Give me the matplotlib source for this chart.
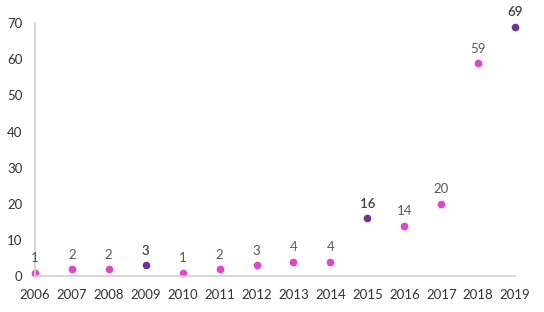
import matplotlib.pyplot as plt

years = [2006, 2007, 2008, 2009, 2010, 2011, 2012, 2013, 2014, 2015, 2016, 2017, 2018, 2019]
counts = [1, 2, 2, 3, 1, 2, 3, 4, 4, 16, 14, 20, 59, 69]
highlight = [2009, 2015, 2019]

pink = '#E840D0'
purple = '#7030A0'

plt.rcParams['font.family'] = ['Lato', 'DejaVu Sans']
fig = plt.figure(figsize=(5.44, 3.12), dpi=100)
ax = fig.add_axes([0.064, 0.115, 0.883, 0.811])

for y, c in zip(years, counts):
    hl = y in highlight
    ax.plot(y, c, 'o', color=purple if hl else pink, markersize=4.5, clip_on=False)
    ax.annotate(str(c), (y, c), xytext=(0, 6), textcoords='offset points',
                ha='center', va='bottom', fontsize=9.5,
                color='#404040' if hl else '#595959',
                fontweight='semibold' if hl else 'normal')

ax.set_xlim(2006, 2019)
ax.set_ylim(0, 70)
ax.set_xticks(years)
ax.set_yticks(range(0, 71, 10))
ax.tick_params(axis='x', length=0, labelsize=9.5, labelcolor='#333333', pad=9)
ax.tick_params(axis='y', length=0, labelsize=9.5, labelcolor='#333333', pad=9)
for s in ['top', 'right']:
    ax.spines[s].set_visible(False)
for s in ['left', 'bottom']:
    ax.spines[s].set_color('#d0d0d0')
    ax.spines[s].set_linewidth(1.2)

plt.savefig('out.png', dpi=100)
